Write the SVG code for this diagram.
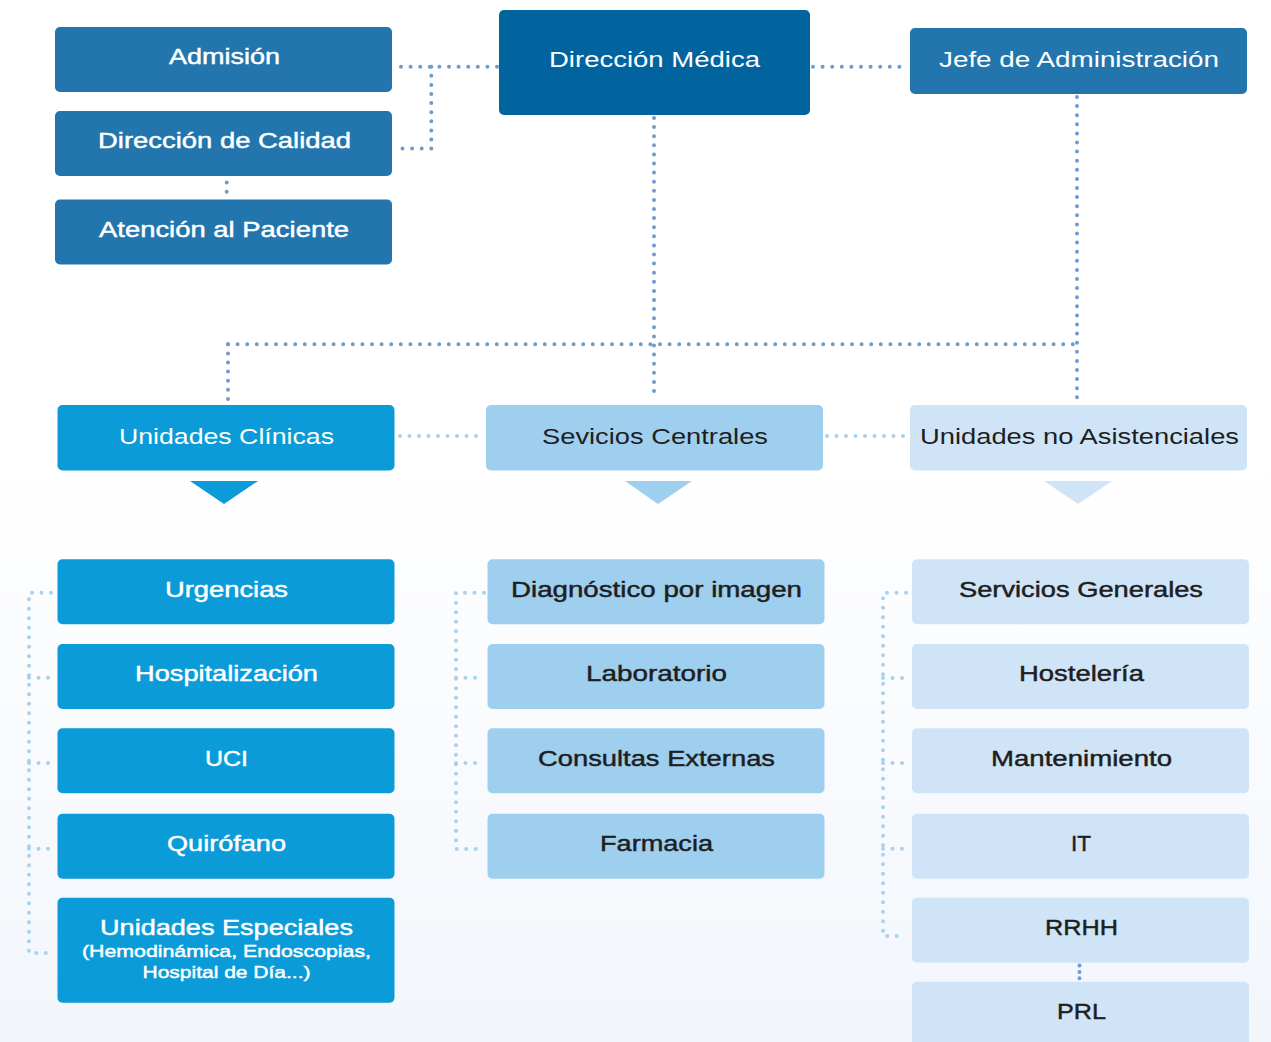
<svg xmlns="http://www.w3.org/2000/svg" width="1271" height="1042" viewBox="0 0 1271 1042">
<defs>
<linearGradient id="bg" x1="0" y1="0" x2="0" y2="1">
<stop offset="0" stop-color="#ffffff"/>
<stop offset="0.44" stop-color="#ffffff"/>
<stop offset="1" stop-color="#f2f6fb"/>
</linearGradient>
<style>
text{font-family:"Liberation Sans",Arial,Helvetica,sans-serif;font-size:22px;text-anchor:middle}
.w{fill:#ffffff}
.k{fill:#1e1e1e}
.med.w{stroke:#ffffff;stroke-width:0.45}
.med.k{stroke:#1e1e1e;stroke-width:0.45}
.sm{font-size:17px}
.b1{fill:#2276ad}
.b0{fill:#02649f}
.c1{fill:#0a9bd8}
.c2{fill:#9ecfee}
.c3{fill:#cfe5f7}
.dd{fill:none;stroke:#6f9ccc;stroke-width:4;stroke-linecap:round;stroke-dasharray:0 9.6}
.dv{stroke-dasharray:0 9.1}
.dl{fill:none;stroke:#a6d2f0;stroke-width:4;stroke-linecap:round;stroke-dasharray:0 9.5}
</style>
</defs>
<rect x="0" y="0" width="1271" height="1042" fill="url(#bg)"/>

<g id="connectors">
<path class="dd" d="M497 66.7 H398"/>
<path class="dd dv" d="M431.3 66.7 V148.5"/>
<path class="dd" d="M431.3 148.5 H398"/>
<path class="dd" d="M226.7 182.5 V193" style="stroke-dasharray:0 9.3"/>
<path class="dd" d="M813 66.7 H907"/>
<path class="dd dv" d="M654 118 V399"/>
<path class="dd dv" d="M1077 97 V399"/>
<path class="dd" d="M228 344.3 H1077"/>
<path class="dd dv" d="M228 344.3 V401"/>
<path class="dd" d="M1079.5 965.5 V979" style="stroke-dasharray:0 6.4"/>
<path class="dl" d="M400 436 H482"/>
<path class="dl" d="M827 436 H906"/>
<path class="dl" d="M51 592.7 H29 V953 H51"/>
<path class="dl" d="M29 677.7 H51 M29 763 H51 M29 848.7 H51"/>
<path class="dl" d="M484 592.7 H456 V849 H484"/>
<path class="dl" d="M456 677.7 H484 M456 763 H484"/>
<path class="dl" d="M906 592.7 H883 V936 H906"/>
<path class="dl" d="M883 678 H906 M883 763 H906 M883 848.7 H906"/>
</g>

<g id="admision"><rect class="b1" x="55" y="27" width="337" height="65" rx="5"/><text class="w med" x="224.5" y="64" textLength="111" lengthAdjust="spacingAndGlyphs">Admisión</text></g>
<g id="direccion-calidad"><rect class="b1" x="55" y="111" width="337" height="65" rx="5"/><text class="w med" x="224.5" y="148" textLength="253" lengthAdjust="spacingAndGlyphs">Dirección de Calidad</text></g>
<g id="atencion-paciente"><rect class="b1" x="55" y="199.5" width="337" height="65" rx="5"/><text class="w med" x="224" y="237" textLength="250" lengthAdjust="spacingAndGlyphs">Atención al Paciente</text></g>
<g id="direccion-medica"><rect class="b0" x="499" y="10" width="311" height="105" rx="5"/><text class="w" x="654.5" y="67" textLength="211" lengthAdjust="spacingAndGlyphs">Dirección Médica</text></g>
<g id="jefe-administracion"><rect class="b1" x="910" y="28" width="337" height="66" rx="5"/><text class="w" x="1079" y="66.5" textLength="280" lengthAdjust="spacingAndGlyphs">Jefe de Administración</text></g>

<g id="unidades-clinicas"><rect class="c1" x="57.5" y="405" width="337" height="65.5" rx="5"/><text class="w" x="226.5" y="443.5" textLength="215" lengthAdjust="spacingAndGlyphs">Unidades Clínicas</text><polygon class="c1" points="190,481 258,481 224,504"/></g>
<g id="servicios-centrales"><rect class="c2" x="486" y="405" width="337" height="65.5" rx="5"/><text class="k" x="655" y="443.5" textLength="226" lengthAdjust="spacingAndGlyphs">Sevicios Centrales</text><polygon class="c2" points="625,481 692,481 658,504"/></g>
<g id="unidades-no-asistenciales"><rect class="c3" x="910" y="405" width="337" height="65.5" rx="5"/><text class="k" x="1079.5" y="443.5" textLength="319" lengthAdjust="spacingAndGlyphs">Unidades no Asistenciales</text><polygon class="c3" points="1044,481 1112,481 1078,504"/></g>

<g id="urgencias"><rect class="c1" x="57.5" y="559.3" width="337" height="65" rx="5"/><text class="w med" x="226.5" y="596.5" textLength="123" lengthAdjust="spacingAndGlyphs">Urgencias</text></g>
<g id="hospitalizacion"><rect class="c1" x="57.5" y="644" width="337" height="65" rx="5"/><text class="w med" x="226.5" y="681" textLength="183" lengthAdjust="spacingAndGlyphs">Hospitalización</text></g>
<g id="uci"><rect class="c1" x="57.5" y="728.3" width="337" height="65" rx="5"/><text class="w med" x="226.5" y="766" textLength="43" lengthAdjust="spacingAndGlyphs">UCI</text></g>
<g id="quirofano"><rect class="c1" x="57.5" y="813.7" width="337" height="65" rx="5"/><text class="w med" x="226.5" y="851" textLength="119" lengthAdjust="spacingAndGlyphs">Quirófano</text></g>
<g id="unidades-especiales"><rect class="c1" x="57.5" y="897.7" width="337" height="105" rx="5"/><text class="w med" x="226.5" y="935" textLength="253" lengthAdjust="spacingAndGlyphs">Unidades Especiales</text><text class="w med sm" x="226.5" y="957" textLength="289" lengthAdjust="spacingAndGlyphs">(Hemodinámica, Endoscopias,</text><text class="w med sm" x="226.5" y="978" textLength="168" lengthAdjust="spacingAndGlyphs">Hospital de Día...)</text></g>

<g id="diagnostico"><rect class="c2" x="487.5" y="559.3" width="337" height="65" rx="5"/><text class="k med" x="656.5" y="596.5" textLength="291" lengthAdjust="spacingAndGlyphs">Diagnóstico por imagen</text></g>
<g id="laboratorio"><rect class="c2" x="487.5" y="644" width="337" height="65" rx="5"/><text class="k med" x="656.5" y="681" textLength="141" lengthAdjust="spacingAndGlyphs">Laboratorio</text></g>
<g id="consultas-externas"><rect class="c2" x="487.5" y="728.3" width="337" height="65" rx="5"/><text class="k med" x="656.5" y="766" textLength="237" lengthAdjust="spacingAndGlyphs">Consultas Externas</text></g>
<g id="farmacia"><rect class="c2" x="487.5" y="813.7" width="337" height="65" rx="5"/><text class="k med" x="656.5" y="851" textLength="113" lengthAdjust="spacingAndGlyphs">Farmacia</text></g>

<g id="servicios-generales"><rect class="c3" x="912" y="559.3" width="337" height="65" rx="5"/><text class="k med" x="1081" y="596.5" textLength="244" lengthAdjust="spacingAndGlyphs">Servicios Generales</text></g>
<g id="hosteleria"><rect class="c3" x="912" y="644" width="337" height="65" rx="5"/><text class="k med" x="1081.5" y="681" textLength="125" lengthAdjust="spacingAndGlyphs">Hostelería</text></g>
<g id="mantenimiento"><rect class="c3" x="912" y="728.3" width="337" height="65" rx="5"/><text class="k med" x="1081.5" y="766" textLength="181" lengthAdjust="spacingAndGlyphs">Mantenimiento</text></g>
<g id="it"><rect class="c3" x="912" y="813.7" width="337" height="65" rx="5"/><text class="k med" x="1081" y="851" textLength="20" lengthAdjust="spacingAndGlyphs">IT</text></g>
<g id="rrhh"><rect class="c3" x="912" y="897.7" width="337" height="65" rx="5"/><text class="k med" x="1081.5" y="935" textLength="73" lengthAdjust="spacingAndGlyphs">RRHH</text></g>
<g id="prl"><rect class="c3" x="912" y="981.7" width="337" height="80" rx="5"/><text class="k med" x="1081.5" y="1019" textLength="49" lengthAdjust="spacingAndGlyphs">PRL</text></g>
</svg>
